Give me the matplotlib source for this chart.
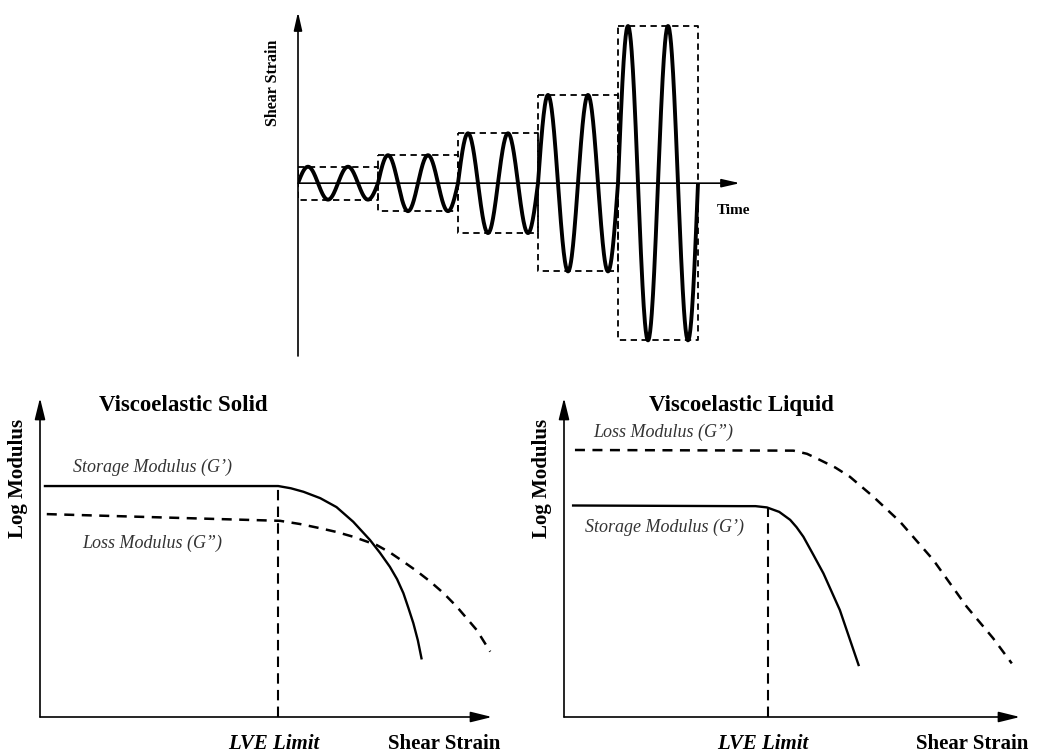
import matplotlib.pyplot as plt
import numpy as np

plt.rcParams['font.family'] = ['Liberation Serif', 'DejaVu Serif']

# top panel: strain sweep, 5 blocks of 2 cycles each
block_start = [0, 2, 4, 6, 8]
block_amp = [1.0, 1.7, 3.03, 5.36, 9.55]
cycles_per_block = 2

# bottom-left: viscoelastic solid
solid_g1_x = [0.11, 5.27, 5.55, 5.83, 6.20, 6.56, 6.93, 7.30, 7.52, 7.74, 7.90, 8.04, 8.15, 8.26, 8.36, 8.44]
solid_g1_y = [7.24, 7.24, 7.17, 7.06, 6.86, 6.58, 6.12, 5.55, 5.15, 4.71, 4.32, 3.88, 3.42, 2.94, 2.40, 1.84]
solid_g2_x = [0.15, 5.31, 5.75, 6.19, 6.56, 6.93, 7.45, 7.75, 8.04, 8.33, 8.63, 8.93, 9.22, 9.66, 9.96]
solid_g2_y = [6.36, 6.15, 6.05, 5.92, 5.80, 5.65, 5.39, 5.15, 4.87, 4.58, 4.25, 3.88, 3.46, 2.73, 2.05]
solid_lve = 5.27

# bottom-right: viscoelastic liquid
liq_g1_x = [0.20, 3.86, 4.20, 4.45, 4.72, 4.96, 5.10, 5.25, 5.47, 5.69, 6.05, 6.46]
liq_g1_y = [6.63, 6.61, 6.61, 6.57, 6.43, 6.18, 5.95, 5.65, 5.08, 4.50, 3.35, 1.63]
liq_g2_x = [0.24, 5.03, 5.33, 5.61, 5.95, 6.27, 6.78, 7.37, 8.10, 8.83, 9.41, 9.82]
liq_g2_y = [8.37, 8.35, 8.25, 8.06, 7.82, 7.53, 6.91, 6.12, 4.92, 3.46, 2.47, 1.68]
liq_lve = 4.47

fig = plt.figure(figsize=(10.4, 7.56), dpi=100)


def arrow(ax, start, tip, hl=1.1, hw=0.25):
    ax.annotate('', xy=tip, xytext=start, annotation_clip=False,
                arrowprops=dict(arrowstyle=f'-|>,head_length={hl},head_width={hw}',
                                lw=1.2, color='k', mutation_scale=10,
                                shrinkA=0, shrinkB=0))


# ---- top: strain amplitude sweep ----
ax = fig.add_axes([298/1040, 1 - 356/756, 442/1040, 344/756])
ax.set_xlim(0, 11.05)
ax.set_ylim(-10.5, 10.4)
ax.axis('off')
arrow(ax, (0, 0), (11.05, 0))
arrow(ax, (0, -10.5), (0, 10.4))
for t0, a in zip(block_start, block_amp):
    t = np.linspace(0, cycles_per_block, 200)
    ax.plot(t0 + t, a*np.sin(2*np.pi*t), color='k', lw=2.8, solid_capstyle='butt')
    ax.plot([t0, t0 + 2, t0 + 2, t0, t0], [a, a, -a, -a, a],
            color='k', lw=1.3, ls=(0, (3.5, 2.5)))
ax.text(-0.63, 6.08, 'Shear Strain', rotation=90, ha='center', va='center',
        fontsize=11.5, fontweight='bold')
ax.text(10.88, -1.64, 'Time', ha='center', va='center', fontsize=11, fontweight='bold')


def modulus_panel(rect, title, title_x, g1x, g1y, g2x, g2y, lve, labels):
    ax = fig.add_axes(rect)
    ax.set_xlim(0, 10)
    ax.set_ylim(0, 10)
    ax.axis('off')
    arrow(ax, (0, 0), (10, 0), hl=1.3, hw=0.32)
    arrow(ax, (0, 0), (0, 10), hl=1.3, hw=0.32)
    ax.plot(g1x, g1y, color='k', lw=1.7)
    ax.plot(g2x, g2y, color='k', lw=1.8, ls=(0, (4, 3)))
    top = np.interp(lve, g1x, g1y)
    ax.plot([lve, lve], [0, top], color='k', lw=1.5, ls=(0, (5, 3)))
    ax.text(title_x, 9.75, title, ha='center', va='center', fontsize=16.5, fontweight='bold')
    ax.text(-0.48, 7.49, 'Log Modulus', rotation=90, ha='center', va='center',
            fontsize=15, fontweight='bold')
    ax.text(lve - 0.1, -0.85, 'LVE Limit', ha='center', va='center', fontsize=15,
            fontweight='bold', style='italic')
    ax.text(8.95, -0.85, 'Shear Strain', ha='center', va='center', fontsize=15,
            fontweight='bold')
    for txt, x, y in labels:
        ax.text(x, y, txt, ha='left', va='center', fontsize=13, style='italic', color='#333333')


modulus_panel([40/1040, 39/756, 452/1040, 319/756], 'Viscoelastic Solid', 3.16,
              solid_g1_x, solid_g1_y, solid_g2_x, solid_g2_y, solid_lve,
              [('Storage Modulus (G\u2019)', 0.73, 7.84), ('Loss Modulus (G\u201d)', 0.93, 5.45)])
modulus_panel([564/1040, 39/756, 456/1040, 319/756], 'Viscoelastic Liquid', 3.90,
              liq_g1_x, liq_g1_y, liq_g2_x, liq_g2_y, liq_lve,
              [('Loss Modulus (G\u201d)', 0.64, 8.93), ('Storage Modulus (G\u2019)', 0.46, 5.96)])

fig.savefig('out.png', dpi=100)
